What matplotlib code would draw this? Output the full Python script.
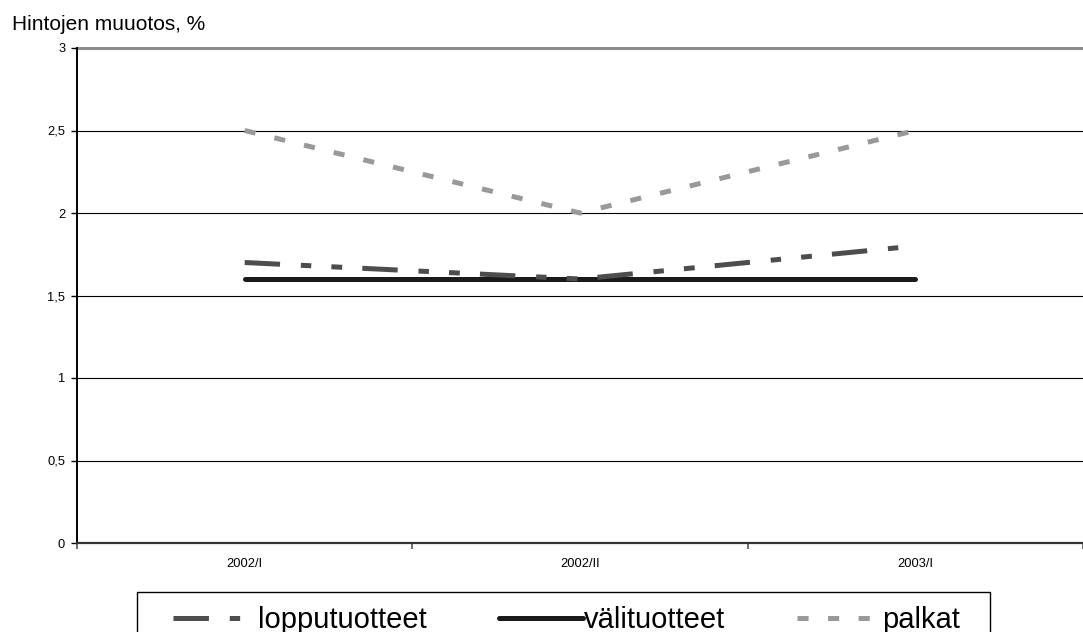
import matplotlib
matplotlib.use("Agg")
import matplotlib.pyplot as plt
from matplotlib.patches import Rectangle
from matplotlib.ticker import FixedLocator

plt.rcParams['font.family'] = ['Liberation Sans', 'DejaVu Sans']
plt.rcParams['lines.scale_dashes'] = False

periods = ['2002/I', '2002/II', '2003/I']
lopputuotteet = [1.7, 1.6, 1.8]
valituotteet = [1.6, 1.6, 1.6]
palkat = [2.5, 2.0, 2.5]
series_names = ['lopputuotteet', 'välituotteet', 'palkat']
y_ticks = [0, 0.5, 1, 1.5, 2, 2.5, 3]
y_tick_labels = ['0', '0,5', '1', '1,5', '2', '2,5', '3']
y_title = 'Hintojen muuotos, %'

W, H = 1083, 632
fig = plt.figure(figsize=(W / 100, H / 100), dpi=100)
ax = fig.add_axes([77 / W, 1 - 543 / H, (W - 77) / W, (543 - 48) / H])

x = list(range(len(periods)))

# horizontal gridlines, the top one is the grey plot-area border
for v in y_ticks[1:-1]:
    ax.axhline(v, color='black', lw=0.8, zorder=1)
ax.axhline(y_ticks[-1], color='#8c8c8c', lw=2.2, zorder=1, clip_on=False)

ax.plot(x, lopputuotteet, color='#4d4d4d', lw=3.6, solid_capstyle='butt',
        dash_capstyle='butt', dashes=(25.5, 15, 7.5, 14.5, 7.8, 14.5),
        label=series_names[0], zorder=3)
ax.plot(x, valituotteet, color='#1a1a1a', lw=3.6, solid_capstyle='round',
        label=series_names[1], zorder=2)
ax.plot(x, palkat, color='#999999', lw=3.6, dash_capstyle='butt',
        dashes=(8, 14), label=series_names[2], zorder=3)

ax.set_xlim(-0.5, len(periods) - 0.5)
ax.set_ylim(y_ticks[0], y_ticks[-1])

ax.set_yticks(y_ticks)
ax.set_yticklabels(y_tick_labels, fontsize=9.3)
ax.tick_params(axis='y', direction='out', length=4, width=1, pad=4.5, colors='black')

ax.set_xticks(x)
ax.set_xticklabels(periods, fontsize=9.3)
ax.xaxis.set_minor_locator(FixedLocator([i - 0.5 for i in range(len(periods) + 1)]))
ax.tick_params(axis='x', which='major', length=0, pad=11)
ax.tick_params(axis='x', which='minor', direction='out', length=4, width=1.2, color='#555555')

for side in ['top', 'right']:
    ax.spines[side].set_visible(False)
ax.spines['left'].set_linewidth(1.4)
ax.spines['bottom'].set_linewidth(1.6)
ax.spines['bottom'].set_color('#333333')

fig.text(12 / W, 1 - 30 / H, y_title, fontsize=15, va='baseline', ha='left')

# legend box runs off the bottom of the figure
fig.add_artist(Rectangle((137 / W, -0.05), (990 - 137) / W, 1 - 592 / H + 0.05,
                         transform=fig.transFigure, facecolor='white',
                         edgecolor='black', lw=1.0))
fig.legend(loc='center left', bbox_to_anchor=(173 / W, 1 - 620 / H), ncol=3,
           frameon=False, fontsize=21, handlelength=2.88, handletextpad=0.05,
           columnspacing=2.45, borderpad=0, borderaxespad=0)

fig.savefig('out.png', dpi=100)
